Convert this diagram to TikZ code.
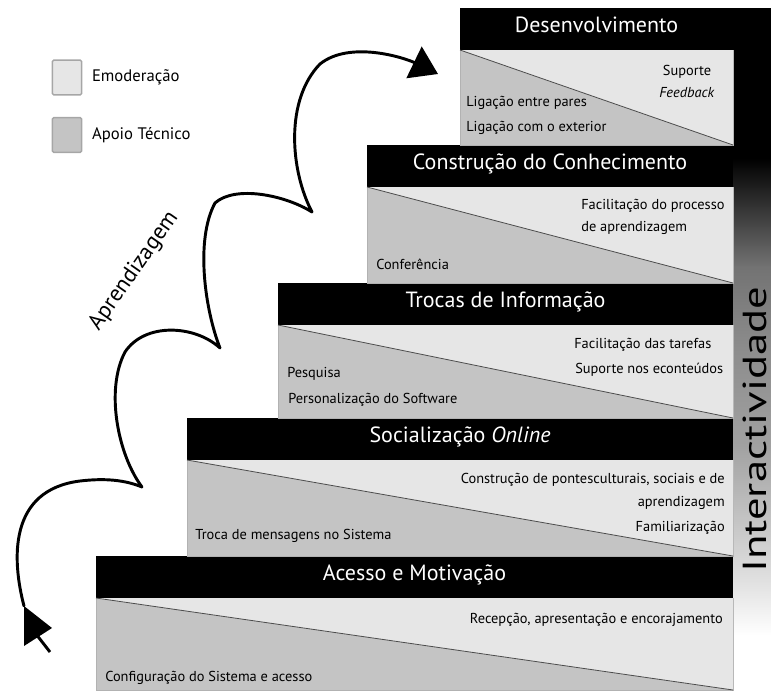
\documentclass[tikz,border=0pt]{standalone}
\usepackage{fontspec}
\setmainfont{PT Sans}
\usetikzlibrary{arrows.meta,positioning}
\definecolor{emodcol}{HTML}{E6E6E6}
\definecolor{apoiocol}{HTML}{C4C4C4}
\pgfdeclareverticalshading{interbar}{100bp}{color(0bp)=(white); color(29bp)=(white);
  color(33bp)=(black!12); color(43bp)=(black!37); color(50bp)=(black!45);
  color(56bp)=(black!55); color(64bp)=(black); color(100bp)=(black)}
\tikzset{headbox/.style={
    rectangle,
    fill=black,
    text=white,
    inner sep=0pt,
    outer sep=0pt,
    font=\fontsize{16.5}{18}\selectfont,
    text height=0.75em,
    text depth=0.22em,
    minimum height=31.5pt
  },
  lbox/.style={rectangle,draw=gray!70,line width=1.1pt,rounded corners=1pt,
    minimum width=22pt,minimum height=26pt},
  legtext/.style={font=\fontsize{12.5}{14}\selectfont,inner sep=0pt},
  note/.style={font=\fontsize{10.8}{12}\selectfont,inner sep=0pt},
  notel/.style={note,anchor=base west},
  noter/.style={note,anchor=base east},
  wave/.style={line width=2.2pt,line cap=round,line join=round},
}
\begin{document}
\begin{tikzpicture}[x=0.75pt,y=-0.75pt]
  \useasboundingbox (0,0) rectangle (771,690);
  % interactividade bar
  \shade[shading=interbar] (733,8) rectangle (771,690);
  \node[rotate=90,inner sep=0pt,font=\fontsize{25}{25}\selectfont] (inter) at (755,430)
    {\scalebox{1.34}[1]{Interactividade}};

  % steps
  \foreach \L/\T/\B/\name/\title in {
      96/556/690/acesso/Acesso e Motivação,
      187/418/556/social/Socialização \textit{Online},
      278/283/418/trocas/Trocas de Informação,
      367/145/283/constr/Construção do Conhecimento,
      460/8/145/desenv/Desenvolvimento} {
    \node[headbox,minimum width={(733-\L)*0.75pt},anchor=north west] (\name) at (\L,\T) {\title};
    \fill[apoiocol,draw=gray!60,line width=0.4pt] (\name.south west) rectangle (733,\B);
    \fill[emodcol] (\name.south west) -- (\name.south east) -- (733,\B) -- cycle;
    \draw[black!70,line width=0.6pt] (\name.south west) -- (733,\B);
  }

  % texts of the steps
  \node[note,anchor=base] (suporte) at (687,75) {Suporte};
  \node[note,anchor=base] (feedback) at (687,97) {\textit{Feedback}};
  \node[notel] (pares) at (466,106) {Ligação entre pares};
  \node[notel] (exterior) at (466,131) {Ligação com o exterior};
  \node[notel] (facproc) at (581,209) {Facilitação do processo};
  \node[notel] (deapr) at (581,231) {de aprendizagem};
  \node[notel] (confer) at (376,269) {Conferência};
  \node[notel] (factar) at (574,348) {Facilitação das tarefas};
  \node[notel] (supcont) at (575,373) {Suporte nos econteúdos};
  \node[notel] (pesq) at (287,377) {Pesquisa};
  \node[notel] (perso) at (288,403) {Personalização do Software};
  \node[noter] (pontes) at (725,483) {Construção de pontesculturais, sociais e de};
  \node[noter] (aprend) at (725,506) {aprendizagem};
  \node[noter] (famil) at (725,531) {Familiarização};
  \node[notel] (troca) at (195,539) {Troca de mensagens no Sistema};
  \node[noter] (recep) at (723,623) {Recepção, apresentação e encorajamento};
  \node[notel] (config) at (105,681) {Configuração do Sistema e acesso};

  % legend
  \node[lbox,fill=emodcol] (legemod) at (67,77.5) {};
  \node[legtext,right=7pt of legemod] (txtemod) {Emoderação};
  \node[lbox,fill=apoiocol] (legapoio) at (67,135) {};
  \node[legtext,right=7pt of legapoio] (txtapoio) {Apoio Técnico};

  % aprendizagem
  \node[rotate=55,inner sep=0pt,font=\fontsize{17}{17}\selectfont] (aprendiz) at (134,271) {Aprendizagem};
  \coordinate (wstart) at (24,606);
  \coordinate (wend) at (438,74);
  \fill (wstart) -- (52,628) -- (24,646) -- cycle;
  \draw[line width=2.2pt] (36,634) -- (50,652);
  \draw[wave,-{Triangle[length=20pt,width=26pt]}] (wstart)
    .. controls (12,560) and (8,490) .. (80,481)
    .. controls (105,478) and (125,480) .. (142,487)
    .. controls (118,455) and (105,390) .. (125,352)
    .. controls (145,322) and (195,325) .. (220,348)
    .. controls (205,310) and (195,240) .. (215,203)
    .. controls (235,185) and (285,195) .. (312,212)
    .. controls (290,170) and (285,100) .. (320,64)
    .. controls (350,40) and (405,58) .. (wend);
\end{tikzpicture}
\end{document}
